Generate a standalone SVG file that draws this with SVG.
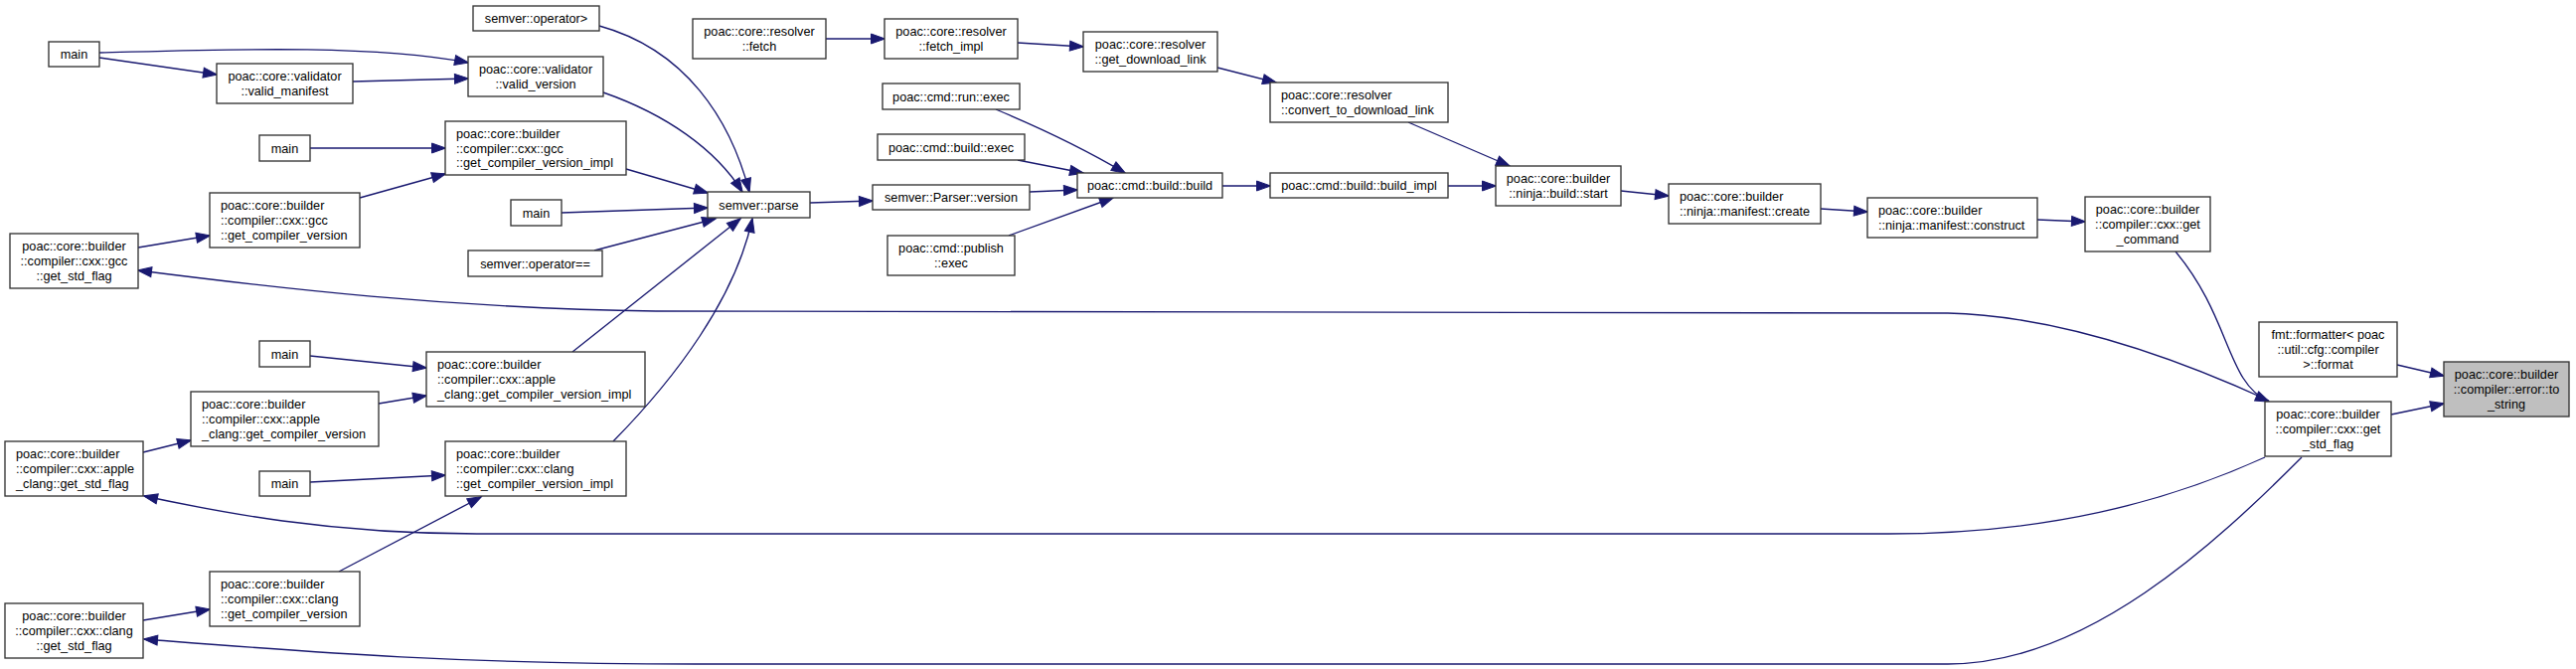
<svg xmlns="http://www.w3.org/2000/svg" width="2592" height="673" viewBox="0 0 2592 673">
<style>
.n rect{fill:#ffffff;stroke:#333333;stroke-width:1.35}
.n.hl rect{fill:#bfbfbf}
text{font-family:"Liberation Sans",Arial,Helvetica,sans-serif;font-size:12.7px;fill:#000000}
.c{text-anchor:middle}
.l{text-anchor:start}
#edges path{fill:none;stroke:#191970;stroke-width:1.35;marker-end:url(#arr)}
</style>
<defs>
<marker id="arr" viewBox="0 0 14 10" markerWidth="14" markerHeight="10" refX="13.5" refY="5" orient="auto" markerUnits="userSpaceOnUse" overflow="visible">
<path d="M0,0 L14,5 L0,10 z" fill="#191970" stroke="#191970" stroke-width="1"/>
</marker>
</defs>
<rect width="2592" height="673" fill="#ffffff"/>
<g id="edges">
<path d="M100,53 C220,50 370,44 471,63"/>
<path d="M100,58 L218,75"/>
<path d="M355,82 L471,79"/>
<path d="M603,26 C690,50 735,120 754,193"/>
<path d="M607,93 C670,115 720,150 747,193"/>
<path d="M312,149 L448,149"/>
<path d="M362,199 L448,175"/>
<path d="M139,249 L211,237"/>
<path d="M630,170 L712,194"/>
<path d="M565,214 L712,209"/>
<path d="M598,252 L720,220"/>
<path d="M576,354 L745,220"/>
<path d="M617,444 C680,380 740,300 757,220"/>
<path d="M312,358 L429,370"/>
<path d="M381,406 L429,398"/>
<path d="M144,455 L192,443"/>
<path d="M312,485 L448,478"/>
<path d="M341,575 L484,500"/>
<path d="M144,624 L211,613"/>
<path d="M2283,403 C2200,365 2080,318 1960,315 L660,313 C450,310 280,290 139,272"/>
<path d="M2279,460 C2180,505 2060,537 1900,537 L480,537 C330,537 220,515 145,499"/>
<path d="M2316,460 C2230,546 2100,668 1960,668 L700,668 C450,668 300,655 145,643"/>
<path d="M2189,253 C2245,320 2240,385 2283,404"/>
<path d="M2412,367 L2459,378"/>
<path d="M2406,417 L2459,406"/>
<path d="M815,204 L878,202"/>
<path d="M1036,193 L1084,191"/>
<path d="M1002,110 C1050,130 1100,155 1132,174"/>
<path d="M1024,161 L1090,174"/>
<path d="M1015,237 L1120,199"/>
<path d="M1230,187 L1278,187"/>
<path d="M1457,187 L1505,187"/>
<path d="M831,39 L890,39"/>
<path d="M1024,43 L1090,47"/>
<path d="M1225,68 L1284,83"/>
<path d="M1417,123 L1519,167"/>
<path d="M1631,192 L1679,197"/>
<path d="M1832,210 L1879,213"/>
<path d="M2050,221 L2098,223"/>
</g>
<g id="main1" class="n"><rect x="49" y="42" width="51" height="25"/><text class="c" x="74.5" y="59.1">main</text></g>
<g id="valid_manifest" class="n"><rect x="218" y="64" width="137" height="40"/><text class="c" x="286.5" y="81.25">poac::core::validator</text><text class="c" x="286.5" y="95.95">::valid_manifest</text></g>
<g id="valid_version" class="n"><rect x="471" y="57" width="136" height="40"/><text class="c" x="539" y="74.25">poac::core::validator</text><text class="c" x="539" y="88.95">::valid_version</text></g>
<g id="op_gt" class="n"><rect x="476" y="6" width="127" height="25"/><text class="c" x="539.5" y="23.1">semver::operator&gt;</text></g>
<g id="main2" class="n"><rect x="261" y="136" width="51" height="26"/><text class="c" x="286.5" y="153.6">main</text></g>
<g id="gcc_impl" class="n"><rect x="448" y="122" width="182" height="54"/><text class="l" x="459" y="138.9">poac::core::builder</text><text class="l" x="459" y="153.6">::compiler::cxx::gcc</text><text class="l" x="459" y="168.3">::get_compiler_version_impl</text></g>
<g id="main3" class="n"><rect x="514" y="201" width="51" height="26"/><text class="c" x="539.5" y="218.6">main</text></g>
<g id="op_eq" class="n"><rect x="471" y="252" width="135" height="26"/><text class="c" x="538.5" y="269.6">semver::operator==</text></g>
<g id="gcc_gcv" class="n"><rect x="211" y="194" width="151" height="55"/><text class="l" x="222" y="211.4">poac::core::builder</text><text class="l" x="222" y="226.1">::compiler::cxx::gcc</text><text class="l" x="222" y="240.8">::get_compiler_version</text></g>
<g id="gcc_std" class="n"><rect x="10" y="235" width="129" height="55"/><text class="c" x="74.5" y="252.4">poac::core::builder</text><text class="c" x="74.5" y="267.1">::compiler::cxx::gcc</text><text class="c" x="74.5" y="281.8">::get_std_flag</text></g>
<g id="main4" class="n"><rect x="261" y="343" width="51" height="26"/><text class="c" x="286.5" y="360.6">main</text></g>
<g id="apple_impl" class="n"><rect x="429" y="354" width="220" height="55"/><text class="l" x="440" y="371.4">poac::core::builder</text><text class="l" x="440" y="386.1">::compiler::cxx::apple</text><text class="l" x="440" y="400.8">_clang::get_compiler_version_impl</text></g>
<g id="apple_gcv" class="n"><rect x="192" y="394" width="189" height="55"/><text class="l" x="203" y="411.4">poac::core::builder</text><text class="l" x="203" y="426.1">::compiler::cxx::apple</text><text class="l" x="203" y="440.8">_clang::get_compiler_version</text></g>
<g id="apple_std" class="n"><rect x="5" y="444" width="139" height="55"/><text class="l" x="16" y="461.4">poac::core::builder</text><text class="l" x="16" y="476.1">::compiler::cxx::apple</text><text class="l" x="16" y="490.8">_clang::get_std_flag</text></g>
<g id="main5" class="n"><rect x="261" y="474" width="51" height="25"/><text class="c" x="286.5" y="491.1">main</text></g>
<g id="clang_impl" class="n"><rect x="448" y="444" width="182" height="55"/><text class="l" x="459" y="461.4">poac::core::builder</text><text class="l" x="459" y="476.1">::compiler::cxx::clang</text><text class="l" x="459" y="490.8">::get_compiler_version_impl</text></g>
<g id="clang_gcv" class="n"><rect x="211" y="575" width="151" height="55"/><text class="l" x="222" y="592.4">poac::core::builder</text><text class="l" x="222" y="607.1">::compiler::cxx::clang</text><text class="l" x="222" y="621.8">::get_compiler_version</text></g>
<g id="clang_std" class="n"><rect x="5" y="607" width="139" height="55"/><text class="c" x="74.5" y="624.4">poac::core::builder</text><text class="c" x="74.5" y="639.1">::compiler::cxx::clang</text><text class="c" x="74.5" y="653.8">::get_std_flag</text></g>
<g id="parse" class="n"><rect x="712" y="193" width="103" height="26"/><text class="c" x="763.5" y="210.6">semver::parse</text></g>
<g id="fetch" class="n"><rect x="697" y="19" width="134" height="40"/><text class="c" x="764" y="36.25">poac::core::resolver</text><text class="c" x="764" y="50.95">::fetch</text></g>
<g id="fetch_impl" class="n"><rect x="890" y="19" width="134" height="40"/><text class="c" x="957" y="36.25">poac::core::resolver</text><text class="c" x="957" y="50.95">::fetch_impl</text></g>
<g id="get_download_link" class="n"><rect x="1090" y="32" width="135" height="40"/><text class="c" x="1157.5" y="49.25">poac::core::resolver</text><text class="c" x="1157.5" y="63.95">::get_download_link</text></g>
<g id="run_exec" class="n"><rect x="888" y="84" width="138" height="26"/><text class="c" x="957" y="101.6">poac::cmd::run::exec</text></g>
<g id="build_exec" class="n"><rect x="883" y="135" width="148" height="26"/><text class="c" x="957" y="152.6">poac::cmd::build::exec</text></g>
<g id="parser_version" class="n"><rect x="878" y="186" width="158" height="25"/><text class="c" x="957" y="203.1">semver::Parser::version</text></g>
<g id="build_build" class="n"><rect x="1084" y="174" width="146" height="25"/><text class="c" x="1157" y="191.1">poac::cmd::build::build</text></g>
<g id="publish_exec" class="n"><rect x="893" y="237" width="128" height="40"/><text class="c" x="957" y="254.25">poac::cmd::publish</text><text class="c" x="957" y="268.95">::exec</text></g>
<g id="convert" class="n"><rect x="1278" y="83" width="179" height="40"/><text class="l" x="1289" y="100.25">poac::core::resolver</text><text class="l" x="1289" y="114.95">::convert_to_download_link</text></g>
<g id="build_impl" class="n"><rect x="1278" y="174" width="179" height="25"/><text class="c" x="1367.5" y="191.1">poac::cmd::build::build_impl</text></g>
<g id="ninja_start" class="n"><rect x="1505" y="167" width="126" height="40"/><text class="c" x="1568" y="184.25">poac::core::builder</text><text class="c" x="1568" y="198.95">::ninja::build::start</text></g>
<g id="manifest_create" class="n"><rect x="1679" y="185" width="153" height="40"/><text class="l" x="1690" y="202.25">poac::core::builder</text><text class="l" x="1690" y="216.95">::ninja::manifest::create</text></g>
<g id="manifest_construct" class="n"><rect x="1879" y="199" width="171" height="40"/><text class="l" x="1890" y="216.25">poac::core::builder</text><text class="l" x="1890" y="230.95">::ninja::manifest::construct</text></g>
<g id="get_command" class="n"><rect x="2098" y="198" width="126" height="55"/><text class="c" x="2161" y="215.4">poac::core::builder</text><text class="c" x="2161" y="230.1">::compiler::cxx::get</text><text class="c" x="2161" y="244.8">_command</text></g>
<g id="fmt_format" class="n"><rect x="2273" y="324" width="139" height="55"/><text class="c" x="2342.5" y="341.4">fmt::formatter&lt; poac</text><text class="c" x="2342.5" y="356.1">::util::cfg::compiler</text><text class="c" x="2342.5" y="370.8">&gt;::format</text></g>
<g id="cxx_get_std_flag" class="n"><rect x="2279" y="404" width="127" height="55"/><text class="c" x="2342.5" y="421.4">poac::core::builder</text><text class="c" x="2342.5" y="436.1">::compiler::cxx::get</text><text class="c" x="2342.5" y="450.8">_std_flag</text></g>
<g id="to_string" class="n hl"><rect x="2459" y="364" width="126" height="55"/><text class="c" x="2522" y="381.4">poac::core::builder</text><text class="c" x="2522" y="396.1">::compiler::error::to</text><text class="c" x="2522" y="410.8">_string</text></g>
</svg>
